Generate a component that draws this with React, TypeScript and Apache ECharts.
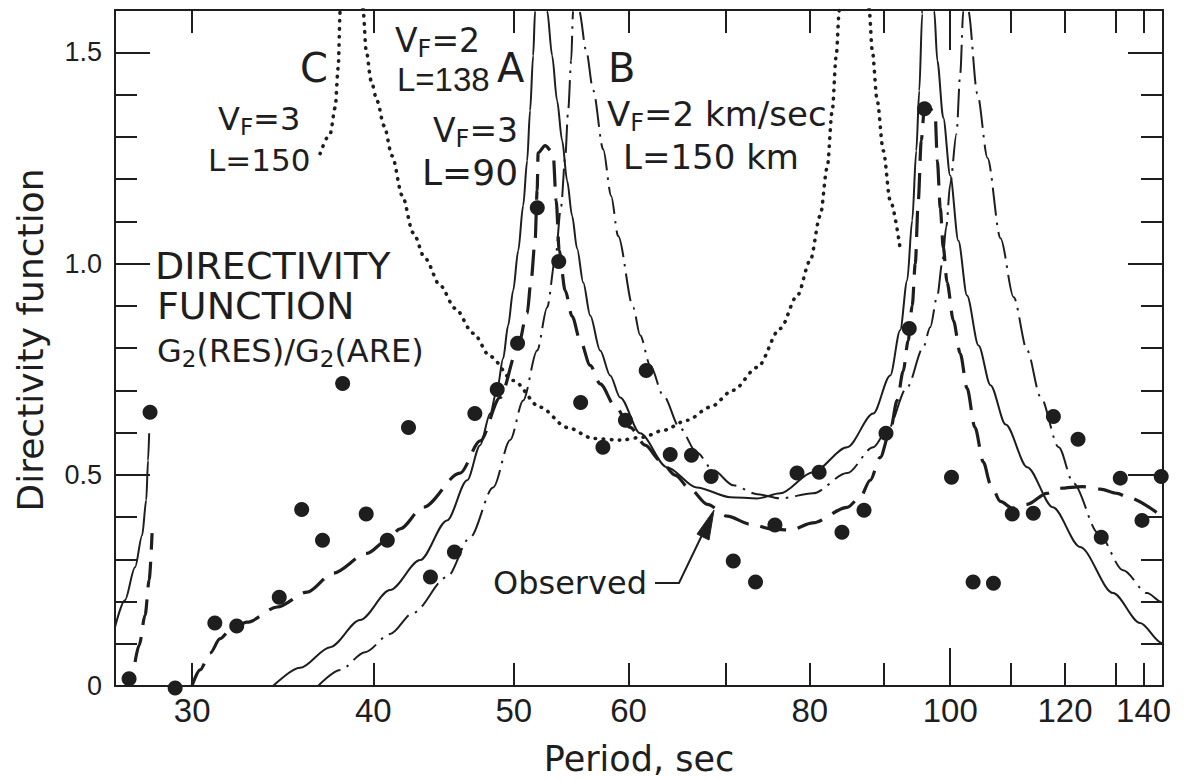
import React, { useEffect, useRef } from 'react';
import * as echarts from 'echarts';

type Pt = [number, number];

// ---------- axes ----------
const xTickValues = [30, 40, 50, 60, 70, 80, 90, 100, 110, 120, 130, 136];
const xLongTickValues = [100];
const xLabelValues = [30, 40, 50, 60, 80, 100, 120, 140];
const yTickValues = [0.1, 0.2, 0.3, 0.4, 0.5, 0.6, 0.7, 0.8, 0.9, 1.0, 1.1, 1.2, 1.3, 1.4, 1.5];
const yLongTickValues = [0.5, 1.0, 1.5];
const yLabelValues = [0, 0.5, 1.0, 1.5];

// ---------- observed directivity (period sec, value) ----------
const observedPoints: Pt[] = [
  [27.14, 0.017], [28.06, 0.648], [29.2, -0.005], [31.1, 0.149], [32.2, 0.142],
  [34.45, 0.21], [35.7, 0.418], [36.9, 0.345], [38.1, 0.716], [39.55, 0.407],
  [40.9, 0.345], [42.3, 0.612], [43.8, 0.258], [45.5, 0.317], [47.0, 0.645],
  [48.7, 0.702], [50.3, 0.811], [51.9, 1.132], [53.7, 1.005], [55.6, 0.671],
  [57.6, 0.565], [59.7, 0.629], [61.7, 0.747], [64.1, 0.548], [66.3, 0.546],
  [68.4, 0.496], [70.85, 0.296], [73.4, 0.246], [75.7, 0.381], [78.4, 0.504],
  [81.2, 0.506], [84.2, 0.364], [87.2, 0.416], [90.3, 0.598], [93.7, 0.846],
  [96.0, 1.366], [100.2, 0.494], [103.7, 0.246], [107.1, 0.243], [110.35, 0.407],
  [114.1, 0.409], [117.8, 0.638], [122.5, 0.584], [127.1, 0.352], [131.0, 0.492],
  [135.6, 0.392], [139.8, 0.496],
];

// ---------- solid curve (A) ----------
const solidEdge: Pt[] = [
  [26.54, 0.139], [26.96, 0.203], [27.4, 0.281], [27.71, 0.357], [27.89, 0.44], [27.97, 0.534], [28.02, 0.598],
];
const solidPeak1Left: Pt[] = [
  [34.11, 0], [35.61, 0.043], [37.35, 0.092], [39.17, 0.156], [41.08, 0.227], [43.09, 0.298],
  [44.97, 0.392], [46.43, 0.487], [47.4, 0.57], [48.16, 0.645], [48.7, 0.704], [49.16, 0.775],
  [49.55, 0.853], [49.95, 0.936], [50.35, 1.03], [50.75, 1.137], [51.07, 1.243], [51.31, 1.362],
  [51.56, 1.492], [51.72, 1.598], [51.8, 1.7],
];
const solidMiddle: Pt[] = [
  [52.62, 1.7], [52.72, 1.598], [53.14, 1.492], [53.56, 1.385], [53.99, 1.291], [54.42, 1.196],
  [54.85, 1.113], [55.29, 1.035], [55.83, 0.955], [56.45, 0.877], [57.35, 0.794], [58.27, 0.735],
  [59.2, 0.683], [61.11, 0.598], [63.76, 0.518], [66.84, 0.47], [70.51, 0.447], [73.6, 0.444],
  [76.34, 0.456], [80.4, 0.506], [84.9, 0.565], [88.49, 0.645], [90.91, 0.735], [92.36, 0.842],
  [93.39, 0.96], [94.14, 1.102], [94.75, 1.267], [95.2, 1.409], [95.65, 1.591], [95.75, 1.7],
];
const solidPeak2Right: Pt[] = [
  [97.35, 1.7], [97.49, 1.598], [97.97, 1.48], [98.9, 1.345], [100.0, 1.208], [101.3, 1.054],
  [102.7, 0.924], [104.6, 0.806], [106.6, 0.712], [109.2, 0.619], [113.0, 0.518], [117.7, 0.423],
  [122.9, 0.329], [129.5, 0.22], [135.2, 0.149], [139.9, 0.102], [140.2, 0.098],
];

// ---------- dashed curve (observed fit) ----------
const dashedEdge: Pt[] = [
  [27.4, 0.057], [27.58, 0.097], [27.84, 0.168], [28.02, 0.251], [28.15, 0.362],
];
const dashedObserved: Pt[] = [
  [29.99, 0], [30.38, 0.038], [30.87, 0.078], [31.36, 0.112], [31.86, 0.132], [32.73, 0.151],
  [34.34, 0.187], [36.01, 0.222], [37.53, 0.267], [39.61, 0.314], [40.88, 0.345], [41.74, 0.372],
  [43.3, 0.423], [45.91, 0.504], [47.4, 0.58], [48.93, 0.683], [50.27, 0.794], [51.07, 0.882],
  [51.39, 0.96], [51.72, 1.054], [51.89, 1.173], [51.97, 1.262], [52.55, 1.279], [53.22, 1.262],
  [53.48, 1.149], [53.74, 1.031], [54.25, 0.936], [54.85, 0.875], [55.56, 0.818], [56.45, 0.759],
  [57.35, 0.715], [58.74, 0.662], [60.15, 0.612], [61.6, 0.57], [63.09, 0.534], [64.6, 0.499],
  [66.16, 0.466], [68.0, 0.43], [70.18, 0.402], [72.78, 0.383], [75.5, 0.371], [77.56, 0.369],
  [80.4, 0.386], [84.9, 0.423], [86.68, 0.447], [88.07, 0.487], [89.47, 0.541], [90.91, 0.605],
  [91.92, 0.676], [92.8, 0.745], [93.54, 0.818], [94.14, 0.9], [94.6, 1.0], [95.05, 1.149],
  [95.5, 1.291], [96.0, 1.371], [96.7, 1.371], [97.64, 1.35], [97.97, 1.243], [98.43, 1.132],
  [98.9, 1.038], [99.5, 0.955], [100.5, 0.865], [101.6, 0.787], [102.7, 0.705], [104.0, 0.612],
  [105.4, 0.53], [106.6, 0.478], [108.3, 0.437], [110.35, 0.421], [113.0, 0.43], [116.6, 0.456],
  [119.1, 0.468], [123.3, 0.472], [126.9, 0.466], [130.4, 0.456], [132.5, 0.447], [139.0, 0.409],
];

// ---------- dash-dot curve (B) ----------
const dashDotPeak1Left: Pt[] = [
  [36.64, 0], [37.95, 0.038], [39.48, 0.08], [41.08, 0.123], [42.61, 0.173], [44.97, 0.258],
  [46.65, 0.352], [48.39, 0.47], [49.71, 0.582], [50.75, 0.676], [51.89, 0.794], [52.72, 0.896],
  [53.39, 1.007], [53.9, 1.135], [54.25, 1.25], [54.51, 1.362], [54.77, 1.48], [54.94, 1.598], [55.05, 1.7],
];
const dashDotMiddle: Pt[] = [
  [55.35, 1.7], [55.47, 1.598], [56.09, 1.504], [56.72, 1.41], [57.63, 1.27], [58.36, 1.16],
  [59.01, 1.065], [60.44, 0.896], [61.11, 0.83], [62.09, 0.759], [63.39, 0.688], [65.12, 0.61],
  [66.84, 0.553], [68.63, 0.511], [70.85, 0.475], [73.6, 0.454], [76.34, 0.444], [80.4, 0.456],
  [84.9, 0.504], [88.49, 0.565], [90.48, 0.605], [93.39, 0.707], [95.8, 0.801], [96.87, 0.849],
  [97.97, 0.924], [98.74, 1.002], [99.37, 1.087], [100.0, 1.189], [101.0, 1.307], [101.6, 1.449],
  [102.1, 1.598], [102.3, 1.7],
];
const dashDotPeak2Right: Pt[] = [
  [102.7, 1.7], [102.9, 1.598], [104.4, 1.402], [106.1, 1.25], [108.3, 1.06], [110.6, 0.92],
  [113.0, 0.794], [115.4, 0.685], [118.8, 0.565], [121.6, 0.48], [126.5, 0.362], [131.6, 0.274],
  [136.7, 0.22], [139.9, 0.199], [140.2, 0.197],
];

// ---------- dotted curve (C) ----------
const dottedPeak1Left: Pt[] = [
  [36.76, 1.26], [37.35, 1.307], [37.65, 1.369], [37.83, 1.463], [37.95, 1.598], [38.0, 1.7],
];
const dottedMiddle: Pt[] = [
  [39.3, 1.7], [39.36, 1.598], [39.55, 1.504], [39.86, 1.433], [40.24, 1.385], [40.69, 1.326],
  [41.21, 1.255], [41.88, 1.161], [42.61, 1.073], [43.43, 1.012], [44.48, 0.948], [45.55, 0.894],
  [46.88, 0.835], [48.16, 0.78], [49.95, 0.723], [52.13, 0.66], [54.42, 0.612], [56.72, 0.586],
  [59.2, 0.582], [61.4, 0.589], [63.39, 0.605], [65.85, 0.629], [68.3, 0.66], [70.85, 0.7],
  [73.6, 0.754], [76.34, 0.846], [78.43, 0.924], [80.06, 1.007], [81.34, 1.113], [82.25, 1.227],
  [82.91, 1.362], [83.44, 1.492], [83.84, 1.598], [83.95, 1.7],
];
const dottedPeak2Right: Pt[] = [
  [87.8, 1.7], [87.93, 1.598], [88.35, 1.504], [89.05, 1.385], [89.91, 1.267], [90.91, 1.149], [92.36, 1.035],
];

// ---------- styling ----------
const ink = '#1e1e1e';
const numFont = "'Liberation Sans', Arial, sans-serif";
const textFont = "'DejaVu Sans', 'Noto Sans', sans-serif";
const X_MIN = 26.54;
const X_MAX = 140.2;

const solidStyle = { width: 2, type: 'solid' };
const dashedStyle = { width: 3.2, type: [26, 12] };
const dashDotStyle = { width: 2, type: [28, 7, 2.5, 7] };
const dottedStyle = { width: 3.6, type: [0.5, 7.5], cap: 'round' };

function curve(data: Pt[], lineStyle: any) {
  return {
    type: 'line',
    xAxisIndex: 0,
    yAxisIndex: 0,
    data,
    symbol: 'none',
    showSymbol: false,
    smooth: 0.3,
    smoothMonotone: 'x',
    clip: true,
    silent: true,
    emphasis: { disabled: true },
    lineStyle: { color: ink, ...lineStyle },
    z: 3,
  };
}

function plainText(x: number, y: number, text: string, size: number, font = textFont) {
  return {
    type: 'text',
    x,
    y,
    silent: true,
    style: {
      text,
      fontSize: size,
      fontFamily: font,
      fill: ink,
      align: 'left',
      verticalAlign: 'middle',
      textAlign: 'left',
      textVerticalAlign: 'middle',
    },
  };
}

function richText(x: number, y: number, parts: [string, boolean][], size: number) {
  const text = parts.map(([t, sub]) => `{${sub ? 's' : 'm'}|${t}}`).join('');
  return {
    type: 'text',
    x,
    y,
    silent: true,
    style: {
      text,
      fontSize: size,
      fontFamily: textFont,
      fill: ink,
      align: 'left',
      verticalAlign: 'middle',
      textAlign: 'left',
      textVerticalAlign: 'middle',
      rich: {
        m: { fontSize: size, fontFamily: textFont, fill: ink, color: ink },
        s: {
          fontSize: Math.round(size * 0.72),
          fontFamily: textFont,
          fill: ink,
          color: ink,
          padding: [Math.round(size * 0.5), 0, 0, 0],
        },
      },
    },
  };
}

function tickAxis(kind: 'x' | 'y', grid: number, position: string, ticks: number[], length: number, withLine: boolean) {
  const common: any = {
    gridIndex: grid,
    position,
    splitLine: { show: false },
    minorTick: { show: false },
    axisLine: { show: withLine, onZero: false, lineStyle: { color: ink, width: 2 } },
    axisTick: { show: true, inside: true, length, customValues: ticks, lineStyle: { color: ink, width: 2 } },
    axisLabel: { show: false },
  };
  if (kind === 'x') {
    return { ...common, type: 'log', min: X_MIN, max: X_MAX };
  }
  return { ...common, type: 'value', min: 0, max: 1.6 };
}

export default function App() {
  const ref = useRef<HTMLDivElement>(null);

  useEffect(() => {
    document.body.style.margin = '0';
    if (!ref.current) return;
    const chart = echarts.init(ref.current, null, { renderer: 'svg' });

    const gridRect = { left: 115, right: 25, top: 10, bottom: 94, containLabel: false, outerBoundsMode: 'none' };

    const xBottom = {
      ...tickAxis('x', 0, 'bottom', xTickValues, 23, true),
      axisLabel: {
        show: true,
        customValues: xLabelValues,
        formatter: (v: number) => (v >= 139 ? '{e|140}' : String(Math.round(v))),
        margin: 8,
        fontSize: 33,
        fontFamily: numFont,
        color: ink,
        rich: {
          e: { width: 18, align: 'right', fontSize: 33, fontFamily: numFont, color: ink },
        },
      },
      name: 'Period, sec',
      nameLocation: 'middle',
      nameGap: 55,
      nameTextStyle: { fontSize: 35, fontFamily: textFont, color: ink },
    };
    const yLeft = {
      ...tickAxis('y', 0, 'left', yTickValues, 22, true),
      axisLabel: {
        show: true,
        customValues: yLabelValues,
        formatter: (v: number) => (v === 0 ? '0' : v.toFixed(1)),
        margin: 13,
        fontSize: 27,
        fontFamily: numFont,
        color: ink,
      },
      name: 'Directivity function',
      nameLocation: 'middle',
      nameGap: 67,
      nameRotate: 90,
      nameTextStyle: { fontSize: 36, fontFamily: textFont, color: ink, padding: [0, 0, 0, 16] },
    };

    const option: any = {
      animation: false,
      backgroundColor: '#ffffff',
      grid: [gridRect, { ...gridRect }],
      xAxis: [
        xBottom,
        tickAxis('x', 0, 'top', xTickValues, 23, true),
        tickAxis('x', 1, 'bottom', xLongTickValues, 38, false),
        tickAxis('x', 1, 'top', xLongTickValues, 40, false),
      ],
      yAxis: [
        yLeft,
        tickAxis('y', 0, 'right', yTickValues, 22, true),
        tickAxis('y', 1, 'left', yLongTickValues, 35, false),
        tickAxis('y', 1, 'right', yLongTickValues, 35, false),
      ],
      series: [
        curve(solidEdge, solidStyle),
        curve(solidPeak1Left, solidStyle),
        curve(solidMiddle, solidStyle),
        curve(solidPeak2Right, solidStyle),
        curve(dashedEdge, dashedStyle),
        curve(dashedObserved, dashedStyle),
        curve(dashDotPeak1Left, dashDotStyle),
        curve(dashDotMiddle, dashDotStyle),
        curve(dashDotPeak2Right, dashDotStyle),
        curve(dottedPeak1Left, dottedStyle),
        curve(dottedMiddle, dottedStyle),
        curve(dottedPeak2Right, dottedStyle),
        {
          type: 'scatter',
          xAxisIndex: 0,
          yAxisIndex: 0,
          data: observedPoints,
          symbol: 'circle',
          symbolSize: 15,
          itemStyle: { color: ink, opacity: 1 },
          clip: false,
          silent: true,
          z: 5,
        },
      ],
      graphic: [
        plainText(300, 68, 'C', 40),
        richText(218, 119, [['V', false], ['F', true], ['=3', false]], 32),
        plainText(208, 160, 'L=150', 31),
        richText(395, 40, [['V', false], ['F', true], ['=2', false]], 33),
        plainText(397, 79, 'L=138', 33, numFont),
        plainText(497, 68, 'A', 40),
        richText(433, 130, [['V', false], ['F', true], ['=3', false]], 33),
        plainText(422, 172, 'L=90', 36),
        plainText(608, 68, 'B', 40),
        richText(607, 114, [['V', false], ['F', true], ['=2 km/sec', false]], 34),
        plainText(623, 157, 'L=150 km', 34),
        plainText(155, 266, 'DIRECTIVITY', 38),
        plainText(157, 306, 'FUNCTION', 38),
        richText(157, 351, [['G', false], ['2', true], ['(RES)/G', false], ['2', true], ['(ARE)', false]], 32),
        plainText(493, 583, 'Observed', 32),
        {
          type: 'polyline',
          silent: true,
          shape: { points: [[655, 583], [679, 583], [703, 533]] },
          style: { stroke: ink, lineWidth: 2, fill: null },
        },
        {
          type: 'polygon',
          silent: true,
          shape: { points: [[714, 510], [697, 534], [709, 540]] },
          style: { fill: ink, stroke: ink, lineWidth: 1 },
        },
      ],
    };

    chart.setOption(option);
    return () => chart.dispose();
  }, []);

  return <div ref={ref} style={{ width: 1188, height: 780 }} />;
}
